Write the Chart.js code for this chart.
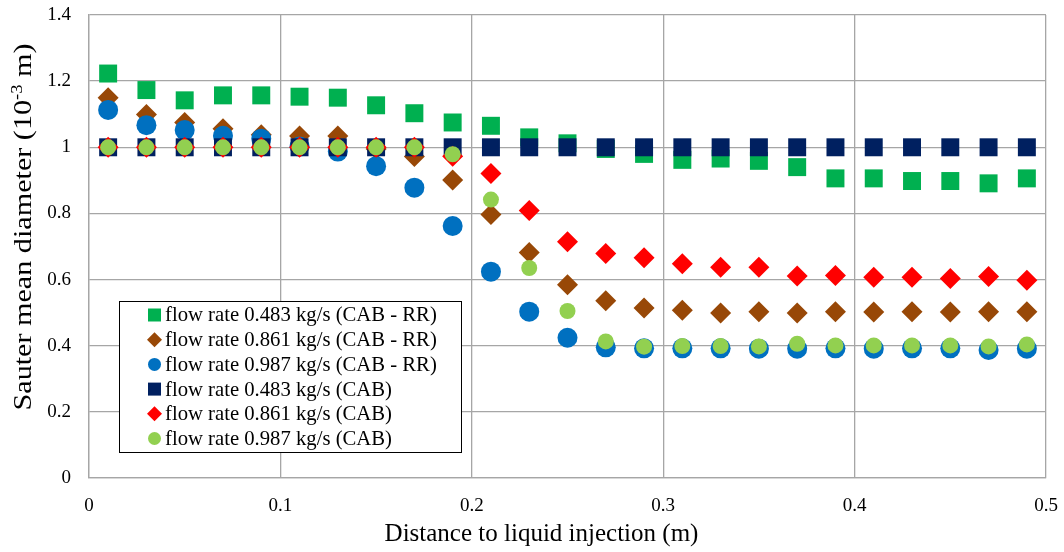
<!DOCTYPE html>
<html><head><meta charset="utf-8">
<script src="https://cdn.jsdelivr.net/npm/chart.js@4/dist/chart.umd.min.js"></script>
<style>html,body{margin:0;padding:0;background:#fff}#wrap{width:1064px;height:552px;position:relative}</style>
</head><body><div id="wrap"><canvas id="c" width="1064" height="552"></canvas></div>
<script>
// ---- data ----
const xValues = [0.01,0.03,0.05,0.07,0.09,0.11,0.13,0.15,0.17,0.19,0.21,0.23,0.25,0.27,0.29,0.31,0.33,0.35,0.37,0.39,0.41,0.43,0.45,0.47,0.49];
const seriesLabels = [
  'flow rate 0.483 kg/s (CAB - RR)',
  'flow rate 0.861 kg/s (CAB - RR)',
  'flow rate 0.987 kg/s (CAB - RR)',
  'flow rate 0.483 kg/s (CAB)',
  'flow rate 0.861 kg/s (CAB)',
  'flow rate 0.987 kg/s (CAB)'
];
const cabRR0483 = [1.223,1.173,1.142,1.157,1.157,1.153,1.150,1.127,1.103,1.075,1.065,1.030,1.012,0.995,0.980,0.962,0.966,0.959,0.940,0.906,0.906,0.898,0.898,0.891,0.906];
const cabRR0861 = [1.150,1.099,1.075,1.056,1.038,1.034,1.034,0.995,0.972,0.901,0.797,0.682,0.584,0.536,0.514,0.507,0.499,0.503,0.499,0.503,0.502,0.503,0.502,0.503,0.503];
const cabRR0987 = [1.113,1.067,1.052,1.035,1.026,1.002,0.987,0.943,0.878,0.762,0.624,0.503,0.424,0.395,0.392,0.392,0.392,0.391,0.391,0.392,0.391,0.392,0.392,0.387,0.391];
const cab0483   = [1,1,1,1,1,1,1,1,1,1,1,1,1,1,1,1,1,1,1,1,1,1,1,1,1];
const cab0861   = [1,1,1,1,1,1,1,1,1,0.973,0.921,0.809,0.714,0.679,0.666,0.648,0.637,0.637,0.611,0.612,0.607,0.607,0.603,0.609,0.598];
const cab0987   = [1,1,1,1,1,1,1,1,1,0.979,0.842,0.635,0.505,0.413,0.397,0.399,0.399,0.398,0.406,0.401,0.401,0.401,0.401,0.398,0.404];
const xTickValues = [0,0.1,0.2,0.3,0.4,0.5];
const yTickValues = [0,0.2,0.4,0.6,0.8,1,1.2,1.4];
const xTitle = 'Distance to liquid injection (m)';
const yTitleParts = ['Sauter mean diameter (10', '-3', ' m)'];

const seriesValues = [cabRR0483, cabRR0861, cabRR0987, cab0483, cab0861, cab0987];
const colors = ['#00B050','#984807','#0070C0','#002060','#FF0000','#92D050'];
const styles = ['rect','rectRot','circle','rect','rectRot','circle'];
const radii = [12.7,10.5,10,12.7,10.5,8];

const SERIF = '"Liberation Serif", "Times New Roman", serif';

const datasets = seriesValues.map((vals,i)=>({
  label: seriesLabels[i],
  data: vals.map((v,j)=>({x:xValues[j], y:v})),
  pointStyle: styles[i],
  pointRadius: radii[i],
  pointHoverRadius: radii[i],
  backgroundColor: colors[i],
  borderColor: colors[i],
  borderWidth: 0,
  pointBorderWidth: 0,
  showLine: false,
  order: -i
}));

function fmt(v){ return String(Math.round(v*10)/10); }

const boxLegend = {
  id:'boxLegend',
  afterDraw(chart){
    const ctx = chart.ctx, a = chart.chartArea;
    const x0 = a.left + 30, y0 = a.bottom - 177, w = 342, h = 151;
    ctx.save();
    ctx.fillStyle = '#fff';
    ctx.fillRect(x0, y0, w, h);
    ctx.strokeStyle = '#000';
    ctx.lineWidth = 1;
    ctx.strokeRect(x0 + 0.5, y0 + 0.5, w, h);
    chart.data.datasets.forEach((ds,i)=>{
      const cy = y0 + 14 + i*24.7, cx = x0 + 35.5;
      ctx.fillStyle = ds.backgroundColor;
      ctx.beginPath();
      if (ds.pointStyle === 'rect') ctx.rect(cx-6.5, cy-6.5, 13, 13);
      else if (ds.pointStyle === 'rectRot') { ctx.moveTo(cx, cy-7.5); ctx.lineTo(cx+7.5, cy); ctx.lineTo(cx, cy+7.5); ctx.lineTo(cx-7.5, cy); ctx.closePath(); }
      else ctx.arc(cx, cy, 6.5, 0, Math.PI*2);
      ctx.fill();
      ctx.fillStyle = '#000';
      ctx.font = '20.7px ' + SERIF;
      ctx.textBaseline = 'middle';
      ctx.textAlign = 'left';
      ctx.fillText(ds.label, cx + 10.5, cy + 1);
    });
    ctx.restore();
  }
};

const axisTitles = {
  id:'axisTitles',
  afterDraw(chart){
    const ctx = chart.ctx, a = chart.chartArea;
    ctx.save();
    ctx.fillStyle = '#000';
    ctx.textBaseline = 'alphabetic';
    ctx.font = '25px ' + SERIF;
    ctx.textAlign = 'center';
    ctx.fillText(xTitle, (a.left + a.right)/2 - 26, 541);
    // y title (rotated, with superscript)
    ctx.translate(31, 227);
    ctx.rotate(-Math.PI/2);
    const big = '26px ' + SERIF, small = '16px ' + SERIF;
    ctx.font = big; const w1 = ctx.measureText(yTitleParts[0]).width; const w3 = ctx.measureText(yTitleParts[2]).width;
    ctx.font = small; const w2 = ctx.measureText(yTitleParts[1]).width;
    const total = w1 + w2 + w3;
    ctx.scale(367 / total, 1);
    let x = -total/2;
    ctx.textAlign = 'left';
    ctx.font = big; ctx.fillText(yTitleParts[0], x, 0); x += w1;
    ctx.font = small; ctx.fillText(yTitleParts[1], x, -9); x += w2;
    ctx.font = big; ctx.fillText(yTitleParts[2], x, 0);
    ctx.restore();
  }
};

new Chart(document.getElementById('c'), {
  type: 'scatter',
  data: { datasets },
  options: {
    responsive: false,
    animation: false,
    devicePixelRatio: 1,
    layout: { padding: { left: 0, right: 18, top: 15, bottom: 0 } },
    plugins: { legend: { display: false }, tooltip: { enabled: false } },
    scales: {
      x: {
        type: 'linear', min: 0, max: 0.5,
        afterBuildTicks: s => { s.ticks = xTickValues.map(v => ({ value: v })); },
        afterFit: s => { s.height = 74; s.paddingLeft = 0; s.paddingRight = 0; },
        grid: { color: '#a6a6a6', lineWidth: 1.3, drawTicks: false },
        border: { color: '#a6a6a6', width: 1.3 },
        ticks: { color: '#000', font: { family: SERIF, size: 19 }, padding: 17, maxRotation: 0, callback: v => fmt(v) }
      },
      y: {
        type: 'linear', min: 0, max: 1.4,
        afterBuildTicks: s => { s.ticks = yTickValues.map(v => ({ value: v })); },
        afterFit: s => { s.width = 89; s.paddingTop = 0; s.paddingBottom = 0; },
        grid: { color: '#a6a6a6', lineWidth: 1.3, drawTicks: false },
        border: { color: '#a6a6a6', width: 1.3 },
        ticks: { color: '#000', font: { family: SERIF, size: 19 }, padding: 18, callback: v => fmt(v) }
      }
    }
  },
  plugins: [boxLegend, axisTitles]
});
</script>
</body></html>
